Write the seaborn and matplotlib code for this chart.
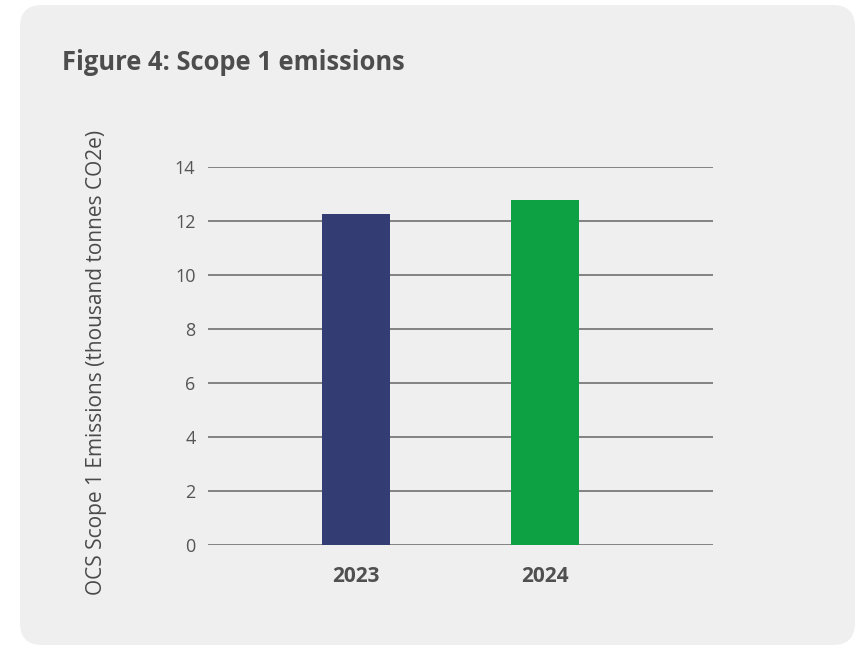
import matplotlib
matplotlib.use("Agg")
import matplotlib.pyplot as plt
from matplotlib.patches import FancyBboxPatch
import seaborn as sns
import pandas as pd

years = ["2023", "2024"]
emissions = [12.26, 12.78]
bar_colors = ["#333d73", "#0ea143"]
y_ticks = [0, 2, 4, 6, 8, 10, 12, 14]

title = "Figure 4: Scope 1 emissions"
y_label = "OCS Scope 1 Emissions (thousand tonnes CO2e)"

sns.set_theme(style="white")
plt.rcParams["font.family"] = ["Open Sans", "DejaVu Sans"]

df = pd.DataFrame({"year": years, "value": emissions})

fig = plt.figure(figsize=(8.61, 6.46), dpi=100)
fig.patch.set_facecolor("white")

# rounded background card (display pixel coordinates)
card = FancyBboxPatch((40, 21), 795, 600,
                      boxstyle="round,pad=20,rounding_size=22",
                      transform=None, facecolor="#efefef",
                      edgecolor="none", zorder=-5)
fig.patches.append(card)

ax = fig.add_axes([208 / 861, 1 - 545 / 646, 505 / 861, 378 / 646])
ax.set_zorder(2)
ax.set_facecolor("none")

sns.barplot(data=df, x="year", y="value", hue="year", palette=bar_colors,
            width=0.36, saturation=1, legend=False, linewidth=0,
            ax=ax, zorder=3)

ax.set_xlim(-0.783, 1.889)
ax.set_ylim(0, 14)
ax.set_yticks(y_ticks)
ax.yaxis.grid(True, color="#707070", linewidth=1.2, zorder=1)
ax.set_axisbelow(True)
for s in ax.spines.values():
    s.set_visible(False)

ax.tick_params(axis="y", length=0, pad=9, labelsize=13, labelcolor="#555555")
ax.tick_params(axis="x", length=0, pad=15, labelsize=15, labelcolor="#505050")
for lbl in ax.get_xticklabels():
    lbl.set_fontweight("bold")
ax.set_xlabel("")
ax.set_ylabel("")

fig.text(97 / 861, 1 - 362 / 646, y_label, rotation=90, ha="center",
         va="center", fontsize=15, color="#4a4a4a", zorder=3)
fig.text(62 / 861, 1 - 62 / 646, title, ha="left", va="center",
         fontsize=18.4, fontweight="bold", color="#4d4d4d", zorder=3)

fig.savefig("out.png", dpi=100, facecolor=fig.get_facecolor())
